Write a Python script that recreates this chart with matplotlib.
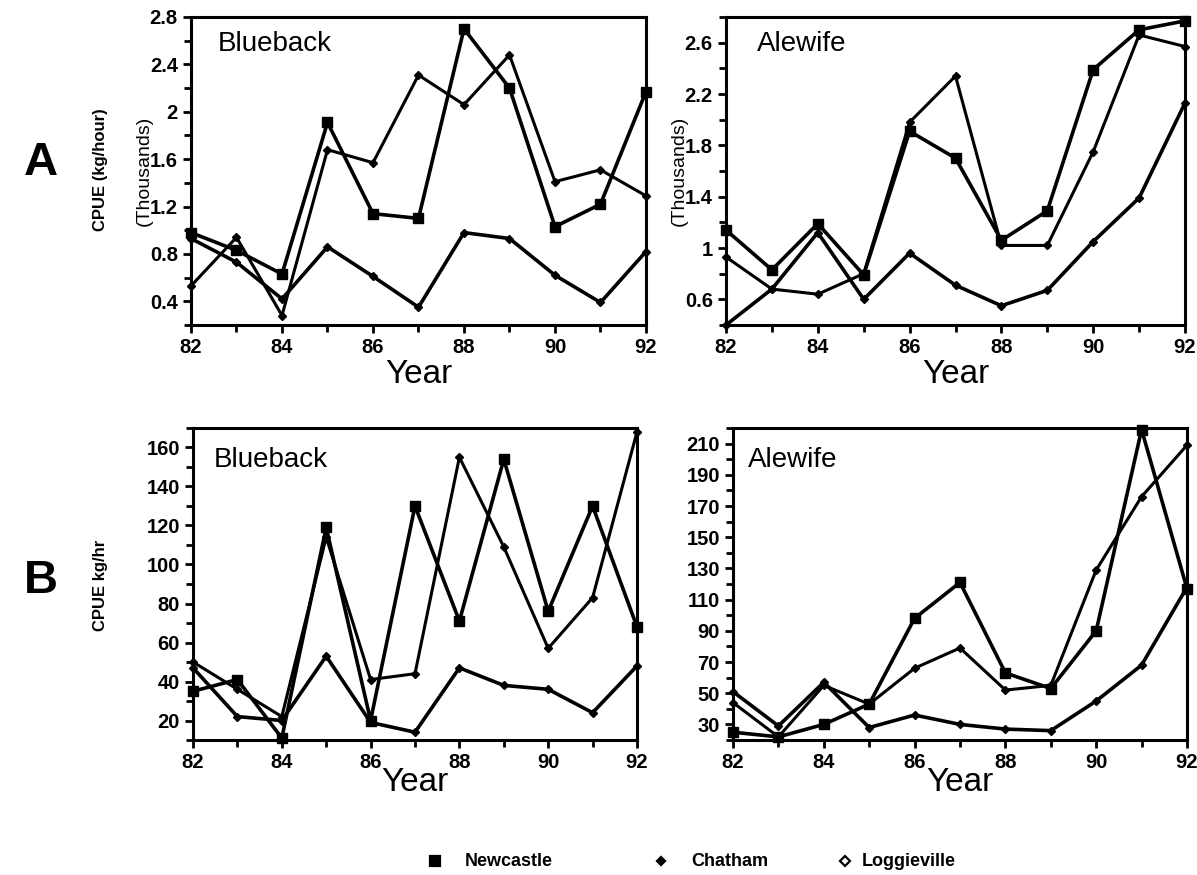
import matplotlib
matplotlib.use("Agg")
import matplotlib.pyplot as plt
from matplotlib.ticker import MultipleLocator, FuncFormatter
from matplotlib.lines import Line2D

plt.rcParams['font.family'] = ['Liberation Sans', 'DejaVu Sans']

years = [82, 83, 84, 85, 86, 87, 88, 89, 90, 91, 92]

# CPUE (thousands kg/hour), panel A
blueback_a_newcastle = [0.98, 0.83, 0.63, 1.91, 1.14, 1.10, 2.70, 2.20, 1.03, 1.22, 2.17]
blueback_a_chatham = [0.53, 0.94, 0.28, 1.68, 1.57, 2.31, 2.06, 2.48, 1.41, 1.51, 1.29]
blueback_a_loggie = [0.93, 0.73, 0.42, 0.86, 0.61, 0.35, 0.98, 0.93, 0.62, 0.39, 0.82]

alewife_a_newcastle = [1.14, 0.83, 1.19, 0.79, 1.91, 1.70, 1.06, 1.29, 2.39, 2.70, 2.77]
alewife_a_chatham = [0.93, 0.68, 0.64, 0.80, 1.98, 2.34, 1.02, 1.02, 1.75, 2.66, 2.57]
alewife_a_loggie = [0.40, 0.68, 1.12, 0.60, 0.96, 0.71, 0.55, 0.67, 1.05, 1.39, 2.13]

# CPUE kg/hr, panel B
blueback_b_newcastle = [35, 41, 11, 119, 20, 130, 71, 154, 76, 130, 68]
blueback_b_chatham = [50, 36, 22, 114, 41, 44, 155, 109, 57, 83, 168]
blueback_b_loggie = [47, 22, 20, 53, 19, 14, 47, 38, 36, 24, 48]

alewife_b_newcastle = [25, 22, 30, 43, 98, 121, 63, 53, 90, 219, 117]
alewife_b_chatham = [44, 22, 55, 43, 66, 79, 52, 55, 129, 176, 209]
alewife_b_loggie = [51, 29, 57, 28, 36, 30, 27, 26, 45, 68, 118]

fig = plt.figure(figsize=(11.97, 8.75), dpi=100)

boxes = {
    'a1': [191/1197, 1 - 325/875, 455/1197, 308/875],
    'a2': [726/1197, 1 - 325/875, 459/1197, 308/875],
    'b1': [193/1197, 1 - 740/875, 444/1197, 312/875],
    'b2': [733/1197, 1 - 740/875, 454/1197, 312/875],
}

def fmt(v, pos):
    return ('%.1f' % v).rstrip('0').rstrip('.')

def draw(key, new, cha, log, name, ylim, major, minor, first, tx, ty, pad):
    ax = fig.add_axes(boxes[key])
    ax.plot(years, new, color='black', lw=2.6, marker='s', ms=7.5, clip_on=False, zorder=3)
    ax.plot(years, cha, color='black', lw=2.2, marker='D', ms=4, clip_on=False, zorder=3)
    ax.plot(years, log, color='black', lw=2.6, marker='D', ms=4.5, clip_on=False, zorder=3)
    ax.set_xlim(82, 92)
    ax.set_ylim(*ylim)
    ax.set_xticks(range(82, 93, 2))
    ax.xaxis.set_minor_locator(MultipleLocator(1))
    n = int(round((ylim[1] - first) / major))
    ax.set_yticks([first + i * major for i in range(n + 1) if first + i * major <= ylim[1] + 1e-9])
    ax.yaxis.set_minor_locator(MultipleLocator(minor))
    ax.yaxis.set_major_formatter(FuncFormatter(fmt))
    ax.tick_params(which='both', direction='out', width=2, length=6)
    ax.tick_params(which='minor', length=5)
    for lab in ax.get_xticklabels() + ax.get_yticklabels():
        lab.set_fontsize(14.5)
        lab.set_fontweight('bold')
    for s in ax.spines.values():
        s.set_linewidth(2.2)
    ax.text(tx, ty, name, transform=ax.transAxes, fontsize=20, va='top')
    ax.set_xlabel('Year', fontsize=24, labelpad=pad)
    return ax

ax1 = draw('a1', blueback_a_newcastle, blueback_a_chatham, blueback_a_loggie,
           'Blueback', (0.2, 2.8), 0.4, 0.2, 0.4, 0.058, 0.955, 1)
ax2 = draw('a2', alewife_a_newcastle, alewife_a_chatham, alewife_a_loggie,
           'Alewife', (0.4, 2.8), 0.4, 0.2, 0.6, 0.068, 0.955, 1)
ax3 = draw('b1', blueback_b_newcastle, blueback_b_chatham, blueback_b_loggie,
           'Blueback', (10, 170), 20, 10, 20, 0.047, 0.94, -4)
ax4 = draw('b2', alewife_b_newcastle, alewife_b_chatham, alewife_b_loggie,
           'Alewife', (20, 220), 20, 10, 30, 0.033, 0.94, -4)

ax1.set_ylabel('(Thousands)', fontsize=14, labelpad=-2)
ax2.set_ylabel('(Thousands)', fontsize=14, labelpad=-2)

fig.text(100/1197, 1 - 170/875, 'CPUE (kg/hour)', rotation=90, fontsize=12,
         fontweight='bold', ha='center', va='center')
fig.text(100/1197, 1 - 585/875, 'CPUE kg/hr', rotation=90, fontsize=12,
         fontweight='bold', ha='center', va='center')
fig.text(41/1197, 1 - 163/875, 'A', fontsize=34, fontweight='bold', ha='center', va='center')
fig.text(41/1197, 1 - 581/875, 'B', fontsize=34, fontweight='bold', ha='center', va='center')

# legend row along the bottom
leg_y = 1 - 861/875
leg_items = [
    (435, 465, 's', 7, 'black', 'Newcastle'),
    (661, 691, 'D', 4.5, 'black', 'Chatham'),
    (845, 862, 'D', 5, 'white', 'Loggieville'),
]
for mx, tx, mk, ms, fc, label in leg_items:
    fig.add_artist(Line2D([mx/1197], [leg_y], transform=fig.transFigure, ls='none',
                          marker=mk, ms=ms, mfc=fc, mec='black', mew=1.6))
    fig.text(tx/1197, leg_y, label, fontsize=13, fontweight='bold', ha='left', va='center')

fig.savefig('out.png', dpi=100)
